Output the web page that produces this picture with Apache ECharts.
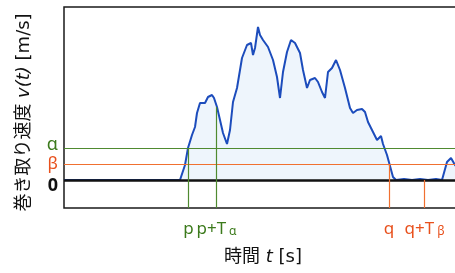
<!DOCTYPE html>
<html>
<head>
<meta charset="utf-8">
<script src="https://cdn.jsdelivr.net/npm/echarts@6/dist/echarts.min.js"></script>
<style>
  html, body { margin: 0; padding: 0; background: #fff; }
  #chart { width: 455px; height: 273px; }
</style>
</head>
<body>
<div id="chart"></div>
<script>
// 巻き取り速度 v(t) の時間変化（値は図から読み取り）
const times = [0, 5, 11.6, 12.1, 12.4, 12.8, 13.1, 13.3, 13.6, 13.8, 14.1, 14.4, 14.8, 15.0, 15.3, 15.6, 15.9, 16.3,
    16.6, 16.9, 17.3, 17.8, 18.3, 18.7, 18.9, 19.1, 19.4, 19.6, 19.9, 20.4, 20.9, 21.3, 21.6, 21.9, 22.3, 22.7,
    23.1, 23.6, 23.9, 24.3, 24.6, 25.1, 25.4, 25.8, 26.1, 26.4, 26.8, 27.2, 27.6, 28.1, 28.6, 28.9, 29.3, 29.8,
    30.1, 30.4, 30.9, 31.3, 31.7, 31.9, 32.3, 32.6, 32.9, 33.2, 34.0, 34.8, 35.6, 36.4, 37.2, 37.8, 38.3, 38.7,
    39.1, 39.6, 41]
const speeds = [0, 0, 0, 1.5, 3.2, 4.5, 5.3, 6.7, 7.7, 7.9, 7.7, 8.3, 8.5, 8.2, 7.3, 6.0, 4.7, 3.6,
    5.0, 7.8, 9.2, 12.2, 13.5, 13.7, 12.5, 13.2, 15.3, 14.5, 14.0, 13.3, 12.0, 10.3, 8.2, 10.8, 12.8, 14.0,
    13.7, 12.7, 11.0, 9.2, 10.0, 10.2, 9.8, 8.8, 8.2, 10.8, 11.2, 12.0, 11.0, 9.2, 7.2, 6.7, 7.0, 7.1,
    6.8, 5.8, 4.8, 4.0, 4.4, 3.6, 2.5, 1.4, 0.3, 0, 0.1, 0, 0.1, 0, 0.1, 0, 1.8, 2.2,
    1.5, 1.0, 0.8]

// しきい値
const alpha = 3.2
const beta = 1.6
// 時刻マーカー [p, p+Tα, q, q+Tβ]
const markTimes = [12.45, 15.25, 32.5, 36.05]
const markTops = [alpha, 7.3, beta, 0]

const vMin = -2.8
const vMax = 17.3
const tMax = 41

const green = '#4f8a30'
const greenText = '#3c7a1c'
const orange = '#f07030'
const orangeText = '#e8501c'
const font = '"DejaVu Sans", "Noto Sans CJK JP", sans-serif'
const fontN = '"Noto Sans", "Noto Sans CJK JP", sans-serif'

;(function () {
    const myChart = echarts.init(document.getElementById('chart'))

    const vLine = function (i, color, text) {
        const c = color === green ? greenText : orangeText
        return [
            {
                coord: [markTimes[i], vMin],
                lineStyle: { color: color, width: 1.2, type: 'solid' },
                label: {
                    show: true,
                    position: 'start',
                    distance: 8,
                    formatter: text,
                    color: c,
                    rich: {
                        m: { fontSize: 17, fontFamily: fontN, lineHeight: 22, verticalAlign: 'bottom', color: c },
                        s: { fontSize: 12, fontFamily: fontN, lineHeight: 12, verticalAlign: 'bottom',
                            padding: [0, 0, 0, 3], color: c }
                    }
                }
            },
            { coord: [markTimes[i], markTops[i]] }
        ]
    }

    // 縦軸側のラベル（α, β, 0）
    const hLabel = function (text, color, size, weight, padTop, padBottom) {
        return {
            show: true,
            position: 'start',
            distance: 6,
            formatter: '{z|' + text + '}',
            rich: {
                z: { color: color, fontSize: size, fontWeight: weight, fontFamily: fontN,
                    lineHeight: size + 2, padding: [padTop, 0, padBottom, 0] }
            }
        }
    }

    const option = {
        animation: false,
        textStyle: { fontFamily: font },
        grid: {
            left: 64,
            top: 7,
            right: -19,
            bottom: 65,
            outerBoundsMode: 'none',
            containLabel: false,
            show: true,
            borderColor: '#1a1a1a',
            borderWidth: 1.5,
            backgroundColor: 'transparent'
        },
        xAxis: {
            type: 'value',
            min: 0,
            max: tMax,
            name: '{a|時間 }{i|t}{a| [s]}',
            nameLocation: 'middle',
            nameGap: 40,
            nameTextStyle: {
                padding: [0, 12, 0, 0],
                rich: {
                    a: { fontSize: 18, color: '#111', fontFamily: font },
                    i: { fontSize: 18, color: '#111', fontFamily: font, fontStyle: 'italic' }
                }
            },
            axisLine: { show: false },
            axisTick: { show: false },
            axisLabel: { show: false },
            splitLine: { show: false }
        },
        yAxis: {
            type: 'value',
            min: vMin,
            max: vMax,
            name: '{a|巻き取り速度 }{i|v(t)}{a| [m/s]}',
            nameLocation: 'middle',
            nameRotate: 90,
            nameGap: 31,
            nameTextStyle: {
                padding: [0, 10, 0, 0],
                rich: {
                    a: { fontSize: 18, color: '#111', fontFamily: font },
                    i: { fontSize: 18, color: '#111', fontFamily: font, fontStyle: 'italic' }
                }
            },
            axisLine: { show: false },
            axisTick: { show: false },
            axisLabel: { show: false },
            splitLine: { show: false }
        },
        series: [
            {
                // しきい値線とマーカー
                type: 'line',
                data: [],
                z: 1,
                markLine: {
                    silent: true,
                    symbol: ['none', 'none'],
                    data: [
                        {
                            yAxis: alpha,
                            lineStyle: { color: green, width: 1.2, type: 'solid' },
                            label: hLabel('α', greenText, 18, 'normal', 0, 6)
                        },
                        {
                            yAxis: beta,
                            lineStyle: { color: orange, width: 1.2, type: 'solid' },
                            label: hLabel('β', orangeText, 17, 'normal', 0, 0)
                        },
                        {
                            yAxis: 0,
                            lineStyle: { color: '#111', width: 2.5, type: 'solid' },
                            label: hLabel('0', '#111', 18, 'bold', 11, 0)
                        },
                        vLine(0, green, '{m|p}'),
                        vLine(1, green, '{m|p+T}{s|α}'),
                        vLine(2, orange, '{m|q}'),
                        vLine(3, orange, '{m|q+T}{s|β}')
                    ]
                }
            },
            {
                name: 'v(t)',
                type: 'line',
                z: 3,
                showSymbol: false,
                smooth: false,
                lineStyle: { color: '#1c4cbc', width: 2 },
                areaStyle: { color: '#eef5fc', opacity: 1 },
                data: times.map(function (t, i) { return [t, speeds[i]] })
            }
        ]
    }
    myChart.setOption(option)
})()
</script>
</body>
</html>
